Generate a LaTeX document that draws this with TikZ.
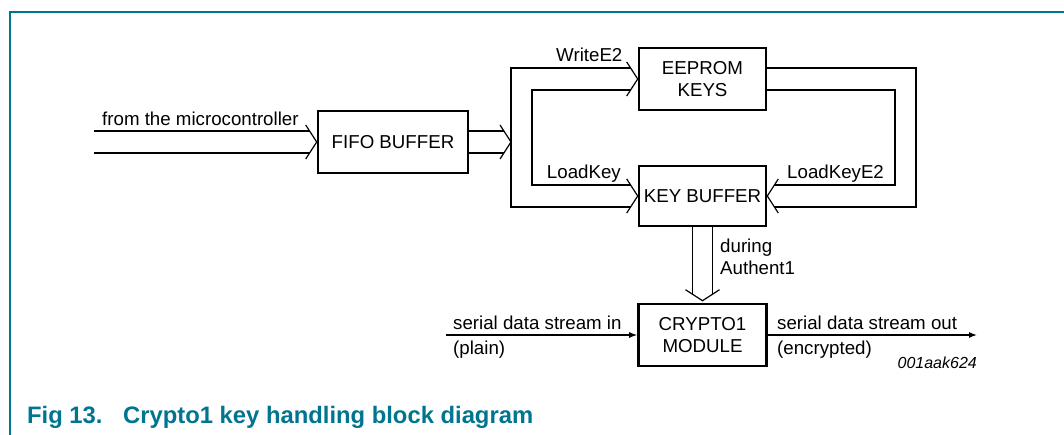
\documentclass[tikz,border=0pt]{standalone}
\usepackage{fontspec}
\setmainfont{Liberation Sans}
\usetikzlibrary{calc,arrows.meta}
\definecolor{nxp}{HTML}{00758F}
\newcommand\lblfont{\fontsize{18.7}{22}\selectfont}
\newcommand\capfont{\fontsize{23.8}{27}\selectfont\bfseries}
\newcommand\chevR[1]{\draw[wire] ($(#1)+(-11,-17)$) -- (#1) -- ($(#1)+(-11,17)$);}
\newcommand\chevL[1]{\draw[wire] ($(#1)+(11,-17)$) -- (#1) -- ($(#1)+(11,17)$);}
\newcommand\chevD[1]{\draw[wire] ($(#1)+(-17,-11)$) -- (#1) -- ($(#1)+(17,-11)$);}
\begin{document}
\begin{tikzpicture}[x=1pt,y=-1pt,
  box/.style={draw,line width=2.6pt,inner sep=0pt,align=center,font=\lblfont},
  wire/.style={line width=1.2pt},
  lab/.style={font=\lblfont,inner sep=0pt},
  tip/.style={-{Latex[length=8pt,width=6pt]}}]
\useasboundingbox (0,0) rectangle (1064,435);
% frame
\draw[nxp,line width=1.2pt] (10,435) -- (10,12) -- (1064,12);
% boxes
\node[box,minimum width=150pt,minimum height=62pt] (fifo) at (393,142) {FIFO BUFFER};
\node[box,minimum width=127pt,minimum height=62pt] (eeprom) at (702.5,79) {EEPROM\\KEYS};
\node[box,minimum width=127pt,minimum height=60pt] (keybuf) at (702.5,196) {KEY BUFFER};
\node[box,minimum width=128pt,minimum height=62pt] (crypto) at (702.5,335) {CRYPTO1\\MODULE};
% coordinates
\coordinate (mcu) at (94,142);
\coordinate (bus) at (511,142);
\coordinate (innerL) at (532,142);
\coordinate (outerR) at (916,142);
\coordinate (innerR) at (895,142);
\coordinate (sin) at (446,335);
\coordinate (sout) at (977,335);
% input bus
\draw[wire] ($(mcu)+(0,-11)$) -- ($(fifo.west)+(-7,-11)$);
\draw[wire] ($(mcu)+(0,11)$) -- ($(fifo.west)+(-7,11)$);
\chevR{fifo.west}
% fifo output bus
\draw[wire] ($(fifo.east)+(0,-11)$) -- ($(bus)+(-7,-11)$);
\draw[wire] ($(fifo.east)+(0,11)$) -- ($(bus)+(-7,11)$);
\chevR{bus}
% left loop
\draw[wire] ($(eeprom.west)+(-7,-11)$) -| (bus) |- ($(keybuf.west)+(-7,11)$);
\draw[wire] ($(eeprom.west)+(-7,11)$) -| (innerL) |- ($(keybuf.west)+(-7,-11)$);
\chevR{eeprom.west}
\chevR{keybuf.west}
% right loop
\draw[wire] ($(eeprom.east)+(0,-11)$) -| (outerR) |- ($(keybuf.east)+(7,11)$);
\draw[wire] ($(eeprom.east)+(0,11)$) -| (innerR) |- ($(keybuf.east)+(7,-11)$);
\chevL{keybuf.east}
% down bus
\coordinate (dtip) at ($(crypto.north)+(0,-2)$);
\draw[wire] ($(keybuf.south)+(-10,0)$) -- ($(dtip)+(-10,-6)$);
\draw[wire] ($(keybuf.south)+(10,0)$) -- ($(dtip)+(10,-6)$);
\chevD{dtip}
% serial
\draw[wire,tip] (sin) -- (crypto.west);
\draw[wire,tip] (crypto.east) -- (sout);
% labels
\node[lab,anchor=base west] (lmcu) at (102,126) {from the microcontroller};
\node[lab,anchor=base west] (lw) at (556,62) {WriteE2};
\node[lab,anchor=base east] (llk) at (621,179) {LoadKey};
\node[lab,anchor=base west] (llke) at (787,179) {LoadKeyE2};
\node[lab,anchor=base west] (ld) at (720,253) {during};
\node[lab,anchor=base west] (la) at (720,275) {Authent1};
\node[lab,anchor=base west] (lsi) at (453,329) {serial data stream in};
\node[lab,anchor=base west] (lp) at (453,354) {(plain)};
\node[lab,anchor=base west] (lso) at (777,329) {serial data stream out};
\node[lab,anchor=base west] (le) at (777,354) {(encrypted)};
\node[font=\fontsize{16}{19}\selectfont\itshape,anchor=base east,inner sep=0pt] (id) at (977,368) {001aak624};
% caption
\node[font=\capfont,text=nxp,anchor=base west,inner sep=0pt] (fig) at (27,423) {Fig 13.};
\node[font=\capfont,text=nxp,anchor=base west,inner sep=0pt] (cap) at (123,423) {Crypto1 key handling block diagram};
\end{tikzpicture}
\end{document}
